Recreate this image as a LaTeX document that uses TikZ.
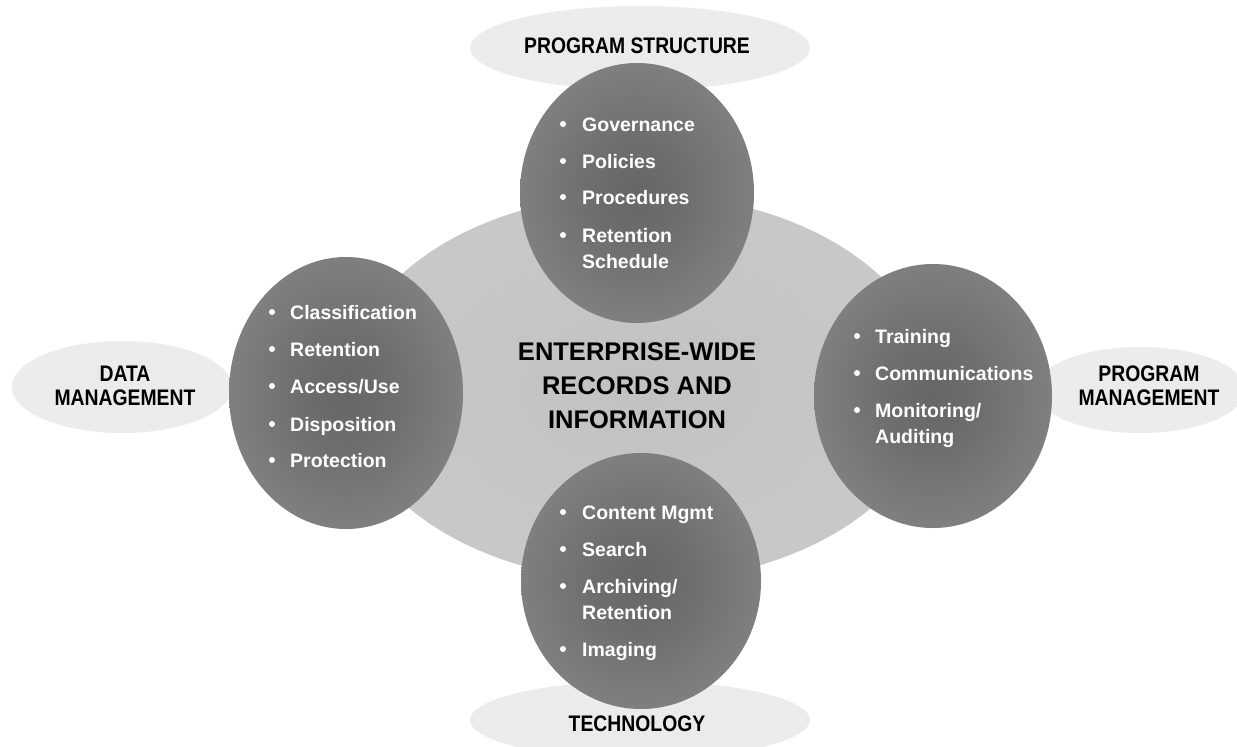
\documentclass[tikz,border=0pt]{standalone}
\usepackage{fontspec}
\setmainfont{Liberation Sans}
\newfontfamily\headfont{Liberation Sans}[FakeStretch=0.86]
\usetikzlibrary{shapes.geometric}
\pgfdeclareradialshading{ballshade}{\pgfpoint{0bp}{0bp}}{color(0bp)=(black!60); color(10bp)=(black!57); color(36bp)=(black!45); color(45bp)=(black!37); color(50bp)=(black!18)}
\pgfdeclareradialshading{hubshade}{\pgfpoint{0bp}{0bp}}{color(0bp)=(black!24); color(38bp)=(black!20); color(47bp)=(black!15); color(50bp)=(black!8)}
\pgfdeclareradialshading{tagshade}{\pgfpoint{0bp}{0bp}}{color(0bp)=(black!8); color(44bp)=(black!7); color(50bp)=(black!3)}
\tikzset{
  tag/.style={ellipse, shade, shading=tagshade, inner sep=0pt},
  hub/.style={ellipse, shade, shading=hubshade, inner sep=0pt},
  ball/.style={ellipse, shade, shading=ballshade, inner sep=0pt},
  item/.style={font=\fontsize{19.5}{22}\selectfont\bfseries, text=white, anchor=base west, inner sep=0pt},
  bul/.style={circle, fill=white, inner sep=0pt, minimum size=6pt},
  head/.style={font=\headfont\bfseries\fontsize{22.5}{24}\selectfont, text=black, align=center, inner sep=0pt},
  title/.style={font=\fontsize{25.5}{34}\selectfont\bfseries, text=black, align=center, inner sep=0pt}
}
\begin{document}
\begin{tikzpicture}[x=1pt,y=-1pt]
\fill[white] (0,0) rectangle (1237,747);
\useasboundingbox (0,0) rectangle (1237,747);
% label ellipses
\node[tag, minimum width=340pt, minimum height=84pt] (tagT) at (640,48) {};
\node[tag, minimum width=220pt, minimum height=92pt] (tagL) at (122,387) {};
\node[tag, minimum width=210pt, minimum height=86pt] (tagR) at (1140,390) {};
\node[tag, minimum width=340pt, minimum height=78pt] (tagB) at (640,720) {};
% central ellipse
\node[hub, minimum width=588pt, minimum height=388pt] (hubE) at (640,388) {};
% four balls
\node[ball, minimum width=234pt, minimum height=260pt] (ballT) at (637,193) {};
\node[ball, minimum width=234pt, minimum height=272pt] (ballL) at (346,393) {};
\node[ball, minimum width=238pt, minimum height=264pt] (ballR) at (933,396) {};
\node[ball, minimum width=240pt, minimum height=256pt] (ballB) at (641,581) {};
% headings
\node[head] (hT) at (637,46) {PROGRAM STRUCTURE};
\node[head] (hL) at (125,386) {DATA\\MANAGEMENT};
\node[head] (hR) at (1149,386) {PROGRAM\\MANAGEMENT};
\node[head] (hB) at (637,724) {TECHNOLOGY};
\node[title] (mid) at (637,386) {ENTERPRISE-WIDE\\RECORDS AND\\INFORMATION};
% top items
\node[bul] (bT1) at (563,124) {};
\node[item] (iT1) at (582,131) {Governance};
\node[bul] (bT2) at (563,161) {};
\node[item] (iT2) at (582,168) {Policies};
\node[bul] (bT3) at (563,197) {};
\node[item] (iT3) at (582,204) {Procedures};
\node[bul] (bT4) at (563,235) {};
\node[item] (iT4) at (582,242) {Retention};
\node[item] (iT5) at (582,268) {Schedule};
% left items
\node[bul] (bL1) at (272,312) {};
\node[item] (iL1) at (290,319) {Classification};
\node[bul] (bL2) at (272,349) {};
\node[item] (iL2) at (290,356) {Retention};
\node[bul] (bL3) at (272,386) {};
\node[item] (iL3) at (290,393) {Access/Use};
\node[bul] (bL4) at (272,424) {};
\node[item] (iL4) at (290,431) {Disposition};
\node[bul] (bL5) at (272,460) {};
\node[item] (iL5) at (290,467) {Protection};
% right items
\node[bul] (bR1) at (857,336) {};
\node[item] (iR1) at (875,343) {Training};
\node[bul] (bR2) at (857,373) {};
\node[item] (iR2) at (875,380) {Communications};
\node[bul] (bR3) at (857,410) {};
\node[item] (iR3) at (875,417) {Monitoring/};
\node[item] (iR4) at (875,443) {Auditing};
% bottom items
\node[bul] (bB1) at (563,512) {};
\node[item] (iB1) at (582,519) {Content Mgmt};
\node[bul] (bB2) at (563,549) {};
\node[item] (iB2) at (582,556) {Search};
\node[bul] (bB3) at (563,586) {};
\node[item] (iB3) at (582,593) {Archiving/};
\node[item] (iB4) at (582,619) {Retention};
\node[bul] (bB5) at (563,649) {};
\node[item] (iB5) at (582,656) {Imaging};
\end{tikzpicture}
\end{document}
